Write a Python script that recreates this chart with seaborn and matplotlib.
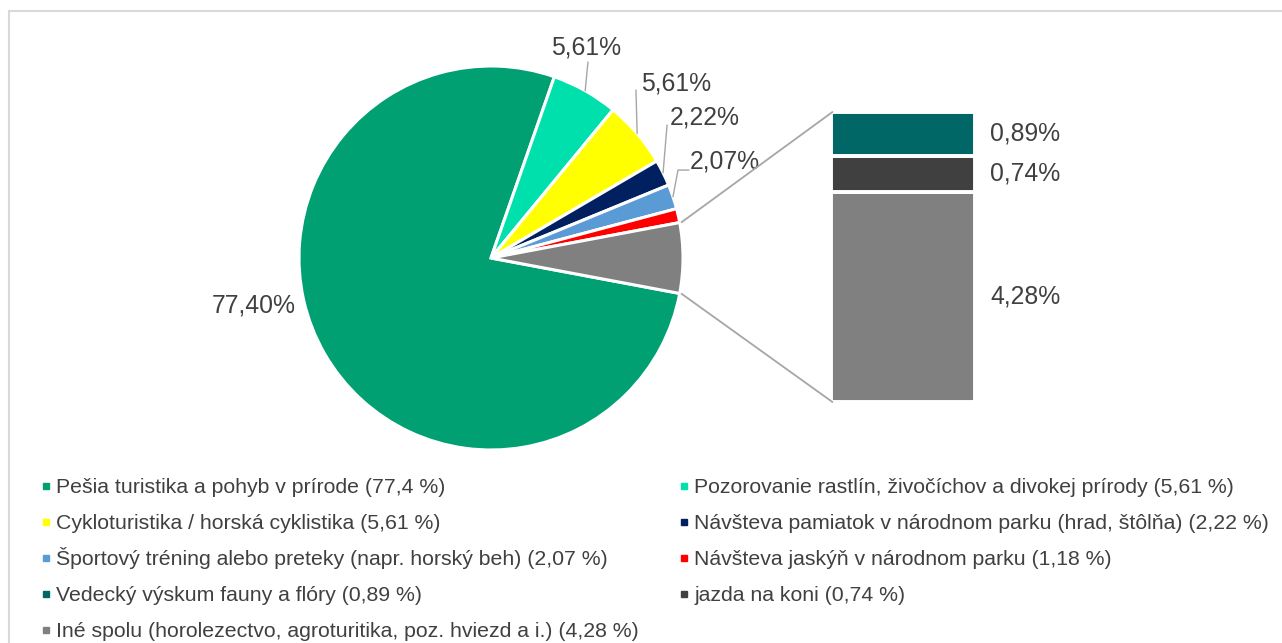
import matplotlib
matplotlib.use("Agg")
import matplotlib.pyplot as plt
from matplotlib.patches import ConnectionPatch
import numpy as np
import seaborn as sns

# data (Slovak survey of activities in the national park)
categories = [
    "Pešia turistika a pohyb v prírode",
    "Pozorovanie rastlín, živočíchov a divokej prírody",
    "Cykloturistika / horská cyklistika",
    "Návšteva pamiatok v národnom parku (hrad, štôlňa)",
    "Športový tréning alebo preteky (napr. horský beh)",
    "Návšteva jaskýň v národnom parku",
    "Vedecký výskum fauny a flóry",
    "jazda na koni",
    "Iné spolu (horolezectvo, agroturitika, poz. hviezd a i.)",
]
values = [77.40, 5.61, 5.61, 2.22, 2.07, 1.18, 0.89, 0.74, 4.28]
legend_values = ["77,4", "5,61", "5,61", "2,22", "2,07", "1,18", "0,89", "0,74", "4,28"]
colors = ["#00A072", "#00E0AC", "#FFFF00", "#002060", "#5B9BD5",
          "#FF0000", "#006666", "#404040", "#808080"]

n_pie = 6  # first six go to the pie, the rest are split into the bar
pie_vals = values[:n_pie] + [sum(values[n_pie:])]
pie_cols = colors[:n_pie] + ["#808080"]
bar_vals = values[n_pie:]
bar_cols = colors[n_pie:]

sns.set_theme(style="white")
plt.rcParams["font.family"] = ["Liberation Sans", "DejaVu Sans"]
txt = "#404040"
lead = "#A6A6A6"

W, H = 1282, 643
fig = plt.figure(figsize=(W / 100, H / 100), dpi=100)
pal = sns.color_palette(pie_cols)

# ---- pie
cx, cy, r = 491, 258, 192
ax = fig.add_axes([(cx - r) / W, 1 - (cy + r) / H, 2 * r / W, 2 * r / H])
other_ang = pie_vals[-1] / 100 * 360
wedges, _ = ax.pie(pie_vals, colors=pal, startangle=-other_ang / 2, counterclock=False,
                   radius=1, wedgeprops=dict(edgecolor="white", linewidth=2.2))
ax.set_xlim(-1, 1)
ax.set_ylim(-1, 1)
ax.axis("off")

def mid(w):
    a = np.deg2rad((w.theta1 + w.theta2) / 2)
    return np.cos(a), np.sin(a)

def fmt(v):
    return f"{v:.2f}".replace(".", ",") + "%"

fs = 17.8
# 77,40% label (no leader)
ax.text(-1.234, -0.245, fmt(pie_vals[0]), ha="center", va="center", fontsize=fs, color=txt)

# labelled small slices: (index, text center, leader path points after wedge edge)
lab_pos = {
    1: ((0.495, 1.094), [(0.505, 1.021)]),
    2: ((0.963, 0.911), [(0.755, 0.875)]),
    3: ((1.115, 0.734), [(0.917, 0.693)]),
    4: ((1.219, 0.500), [(0.974, 0.458), (1.031, 0.458)]),
}
for i, (tp, path) in lab_pos.items():
    x0, y0 = mid(wedges[i])
    pts = [(x0, y0)] + path
    ax.plot([p[0] for p in pts], [p[1] for p in pts], color=lead, lw=1, clip_on=False)
    ax.text(tp[0], tp[1], fmt(pie_vals[i]), ha="center", va="center", fontsize=fs,
            color=txt, clip_on=False)

# ---- bar of pie
bx0, bx1, by0, by1 = 831, 975, 112, 402
bax = fig.add_axes([bx0 / W, 1 - by1 / H, (bx1 - bx0) / W, (by1 - by0) / H])
bottom = 0
order = [2, 1, 0]  # draw from bottom: Iné, jazda, vedecký
mids = {}
for k in order:
    bax.bar(0.5, bar_vals[k], width=1, bottom=bottom, color=bar_cols[k],
            edgecolor="white", linewidth=2.8)
    mids[k] = bottom + bar_vals[k] / 2
    bottom += bar_vals[k]
bax.set_xlim(0, 1)
bax.set_ylim(0, bottom)
bax.axis("off")
for k in range(3):
    bax.text(1.104, mids[k], fmt(bar_vals[k]), ha="left", va="center",
             fontsize=fs, color=txt, clip_on=False)

# connectors pie -> bar
for sgn, yb in [(1, bottom), (-1, 0)]:
    a = np.deg2rad(sgn * other_ang / 2)
    con = ConnectionPatch(xyA=(np.cos(a) * 1.01, np.sin(a) * 1.01), coordsA=ax.transData,
                          xyB=(0.01, yb), coordsB=bax.transData, color=lead, lw=1.3)
    fig.add_artist(con)

# ---- legend, laid out row by row in two columns (pixel coordinates)
lax = fig.add_axes([0, 0, 1, 1], zorder=-1)
lax.set_xlim(0, W)
lax.set_ylim(H, 0)
lax.axis("off")
col_x = [46, 684]
for i, (c, v, col) in enumerate(zip(categories, legend_values, colors)):
    row, cc = divmod(i, 2)
    y = 486 + 36 * row
    lax.plot(col_x[cc], y, marker="s", ms=4.5, color=col, ls="")
    lax.text(col_x[cc] + 10.5, y + 7, f"{c} ({v} %)", ha="left", va="baseline",
             fontsize=15.3, color=txt)

# chart area border (top and left visible)
lax.plot([9, 9], [H, 11], color="#D9D9D9", lw=1.5)
lax.plot([9, W], [11, 11], color="#D9D9D9", lw=1.5)

fig.savefig("out.png", dpi=100)
